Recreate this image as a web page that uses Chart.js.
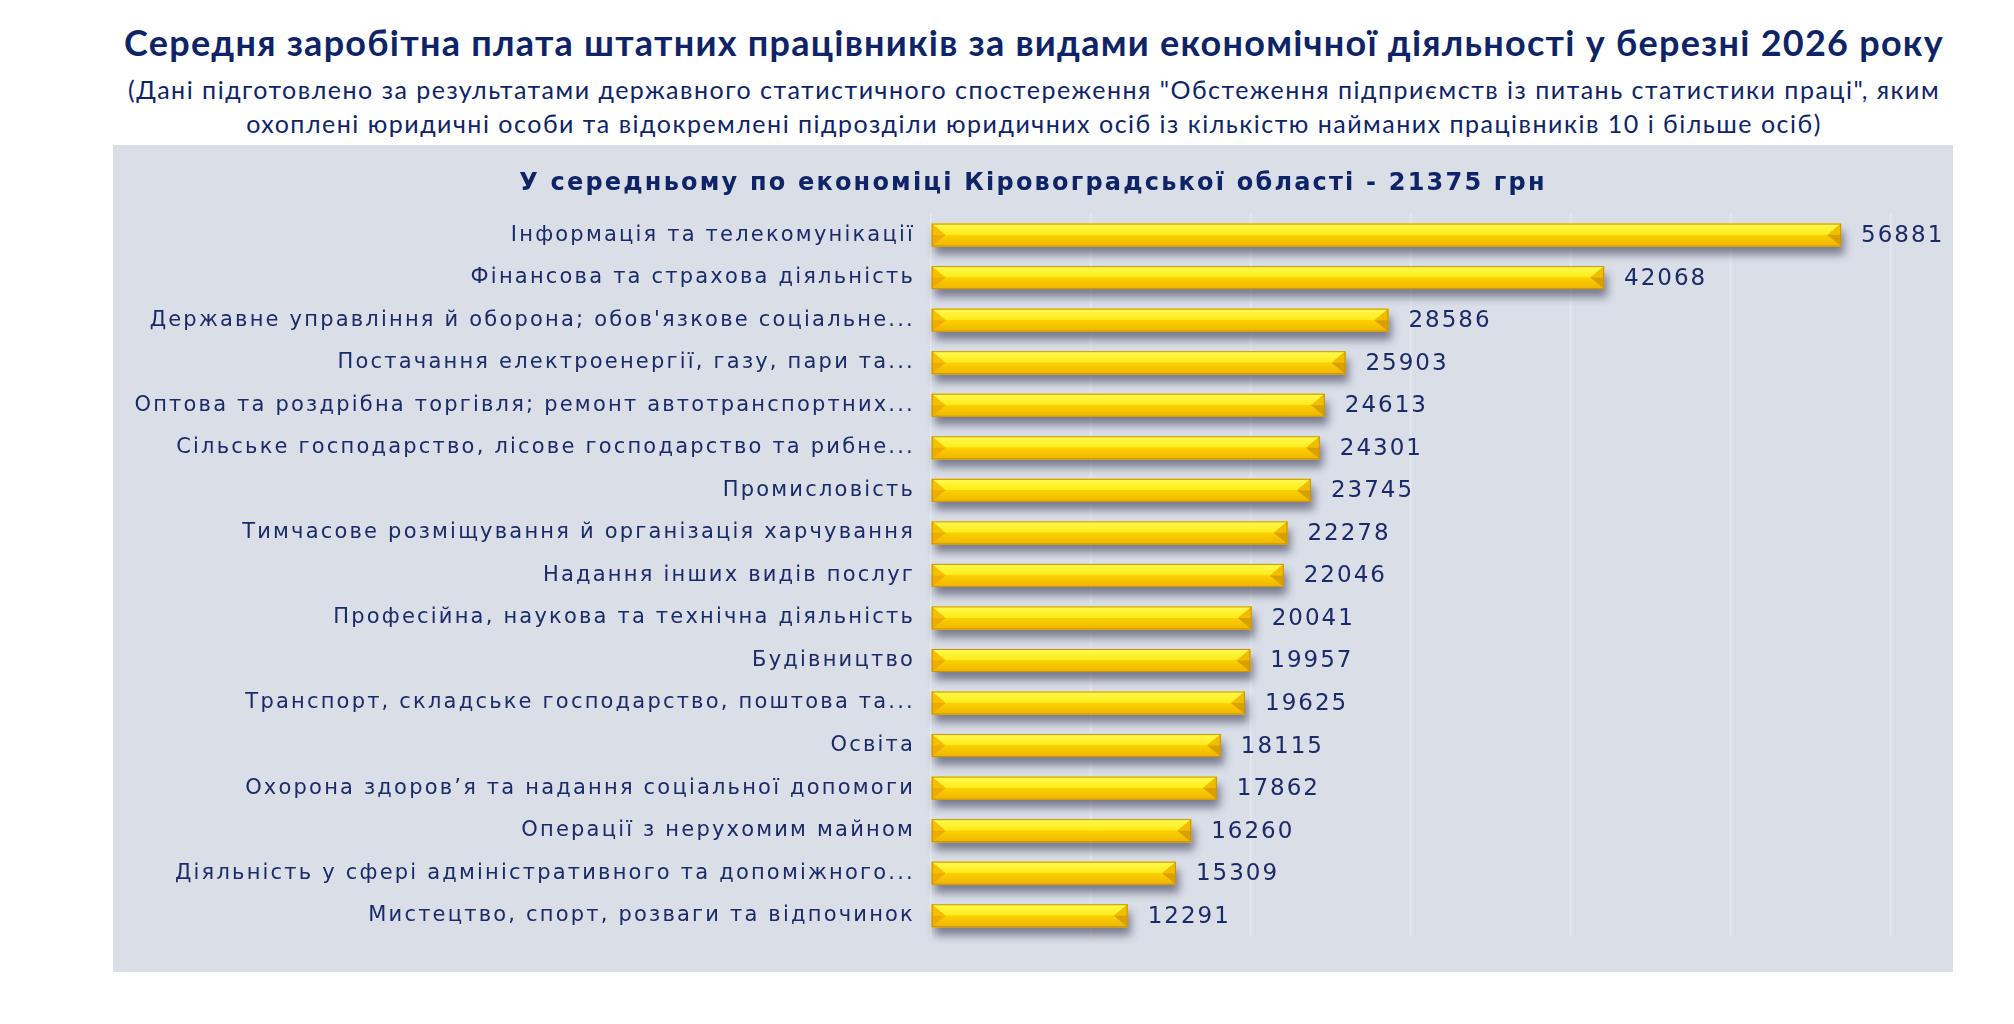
<!DOCTYPE html>
<html lang="uk">
<head>
<meta charset="utf-8">
<title>Середня заробітна плата</title>
<script src="https://cdn.jsdelivr.net/npm/chart.js@4.4.1/dist/chart.umd.min.js"></script>
<style>
  body { margin: 0; width: 2014px; height: 1024px; background: #fff; position: relative; overflow: hidden; }
  #title { position: absolute; left: 0; top: 24px; width: 2068px; text-align: center; letter-spacing: 1.25px;
           font: bold 36px/36px Lato, sans-serif; color: #0e2466; white-space: nowrap; }
  #subtitle { position: absolute; left: 0; top: 72px; width: 2068px; text-align: center; letter-spacing: 1.5px;
              font: 25px/34px Lato, sans-serif; color: #0e2466; white-space: nowrap; }
  #panel { position: absolute; left: 113px; top: 145px; width: 1840px; height: 827px; background: #d9dee7; }
</style>
</head>
<body>
<div id="title">Середня заробітна плата штатних працівників за видами економічної діяльності у березні 2026 року</div>
<div id="subtitle">(Дані підготовлено за результатами державного статистичного спостереження "Обстеження підприємств із питань статистики праці", яким<br>охоплені юридичні особи та відокремлені підрозділи юридичних осіб із кількістю найманих працівників 10 і більше осіб)</div>
<div id="panel"><canvas id="salaryChart"></canvas></div>
<script>
const categories = [
    "Інформація та телекомунікації",
    "Фінансова та страхова діяльність",
    "Державне управління й оборона; обов'язкове соціальне...",
    "Постачання електроенергії, газу, пари та...",
    "Оптова та роздрібна торгівля; ремонт автотранспортних...",
    "Сільське господарство, лісове господарство та рибне...",
    "Промисловість",
    "Тимчасове розміщування й організація харчування",
    "Надання інших видів послуг",
    "Професійна, наукова та технічна діяльність",
    "Будівництво",
    "Транспорт, складське господарство, поштова та...",
    "Освіта",
    "Охорона здоров’я та надання соціальної допомоги",
    "Операції з нерухомим майном",
    "Діяльність у сфері адміністративного та допоміжного...",
    "Мистецтво, спорт, розваги та відпочинок"
];
const salaries = [56881, 42068, 28586, 25903, 24613, 24301, 23745, 22278, 22046, 20041, 19957, 19625, 18115, 17862, 16260, 15309, 12291];
const axisMax = 60000;
const axisStep = 10000;
const panelTitle = "У середньому по економіці Кіровоградської області - 21375 грн";

const navy = "#1b2a68";

// Helper: fill a polygon with given style
function fillPoly(ctx, pts, style) {
    ctx.beginPath();
    ctx.moveTo(pts[0][0], pts[0][1]);
    pts.slice(1).forEach(p => ctx.lineTo(p[0], p[1]));
    ctx.closePath();
    ctx.fillStyle = style;
    ctx.fill();
}

// The picture's text is wide, so space the letters out a little
const wideText = {
    id: "wideText",
    beforeDraw(chart) {
        chart.ctx.letterSpacing = "2.2px";
    }
};

// Grey drop shadow under each bar
const barShadow = {
    id: "barShadow",
    beforeDatasetsDraw(chart) {
        const ctx = chart.ctx;
        chart.getDatasetMeta(0).data.forEach(bar => {
            const { x, y, base, height } = bar.getProps(["x", "y", "base", "height"], true);
            ctx.save();
            ctx.shadowColor = "rgba(70, 72, 95, 0.65)";
            ctx.shadowBlur = 9;
            ctx.shadowOffsetX = 3;
            ctx.shadowOffsetY = 8;
            ctx.fillStyle = "#eab600";
            ctx.fillRect(base, y - height / 2, x - base, height);
            ctx.restore();
        });
    }
};

// Bevelled faces on the bars + value labels
const barBevel = {
    id: "barBevel",
    afterDatasetsDraw(chart) {
        const ctx = chart.ctx;
        const meta = chart.getDatasetMeta(0);
        meta.data.forEach((bar, i) => {
            const { x, y, base, height } = bar.getProps(["x", "y", "base", "height"], true);
            const top = y - height / 2, bottom = y + height / 2, b = height * 0.6;
            ctx.save();
            const gTop = ctx.createLinearGradient(0, top, 0, y);
            gTop.addColorStop(0, "#fffb50");
            gTop.addColorStop(1, "#ffea18");
            fillPoly(ctx, [[base, top], [x, top], [x - b, y], [base + b, y]], gTop);
            const gBot = ctx.createLinearGradient(0, y, 0, bottom);
            gBot.addColorStop(0, "#fbd200");
            gBot.addColorStop(1, "#f0b400");
            fillPoly(ctx, [[base + b, y], [x - b, y], [x, bottom], [base, bottom]], gBot);
            fillPoly(ctx, [[base, top], [base + b, y], [base, y]], "#f5c000");
            fillPoly(ctx, [[base, y], [base + b, y], [base, bottom]], "#eeab00");
            fillPoly(ctx, [[x, top], [x, y], [x - b, y]], "#f0bd00");
            fillPoly(ctx, [[x, y], [x, bottom], [x - b, y]], "#d9a000");
            ctx.strokeStyle = "#c8950a";
            ctx.lineWidth = 1;
            ctx.strokeRect(base + 0.5, top + 0.5, x - base - 1, height - 1);

            ctx.letterSpacing = "2px";
            ctx.font = "23px 'DejaVu Sans'";
            ctx.fillStyle = navy;
            ctx.textAlign = "left";
            ctx.textBaseline = "middle";
            ctx.fillText(salaries[i], x + 20, y + 1);
            ctx.restore();
        });
    }
};

const ctx = document.getElementById("salaryChart").getContext("2d");
const salaryChart = new Chart(ctx, {
    type: "bar",
    data: {
        labels: categories,
        datasets: [{
            label: "Середня заробітна плата, грн",
            data: salaries,
            backgroundColor: "#f6c400",
            borderWidth: 0,
            categoryPercentage: 1,
            barPercentage: 0.54
        }]
    },
    options: {
        indexAxis: "y",
        responsive: true,
        maintainAspectRatio: false,
        animation: false,
        layout: { padding: { left: 0, right: 0, top: 0, bottom: 35 } },
        plugins: {
            legend: { display: false },
            tooltip: { enabled: false },
            title: {
                display: true,
                text: panelTitle,
                color: "#0e2466",
                font: { family: "DejaVu Sans", size: 24, weight: "bold" },
                padding: { top: 24, bottom: 16 }
            }
        },
        scales: {
            x: {
                min: 0,
                max: axisMax,
                ticks: { display: false, stepSize: axisStep },
                grid: { color: "#e6e9ef", lineWidth: 1.5, drawTicks: false },
                border: { display: false }
            },
            y: {
                afterFit: (scale) => { scale.width = 818; },
                ticks: { color: navy, font: { family: "DejaVu Sans", size: 21 }, padding: 16, autoSkip: false },
                grid: { display: false, drawTicks: false },
                border: { display: false }
            },
            // empty right-hand axis: room for the value labels, title stays centred on the panel
            yRight: {
                type: "category",
                position: "right",
                afterFit: (scale) => { scale.width = 62; },
                ticks: { display: false },
                grid: { display: false, drawTicks: false },
                border: { display: false }
            }
        }
    },
    plugins: [wideText, barShadow, barBevel]
});
</script>
</body>
</html>
